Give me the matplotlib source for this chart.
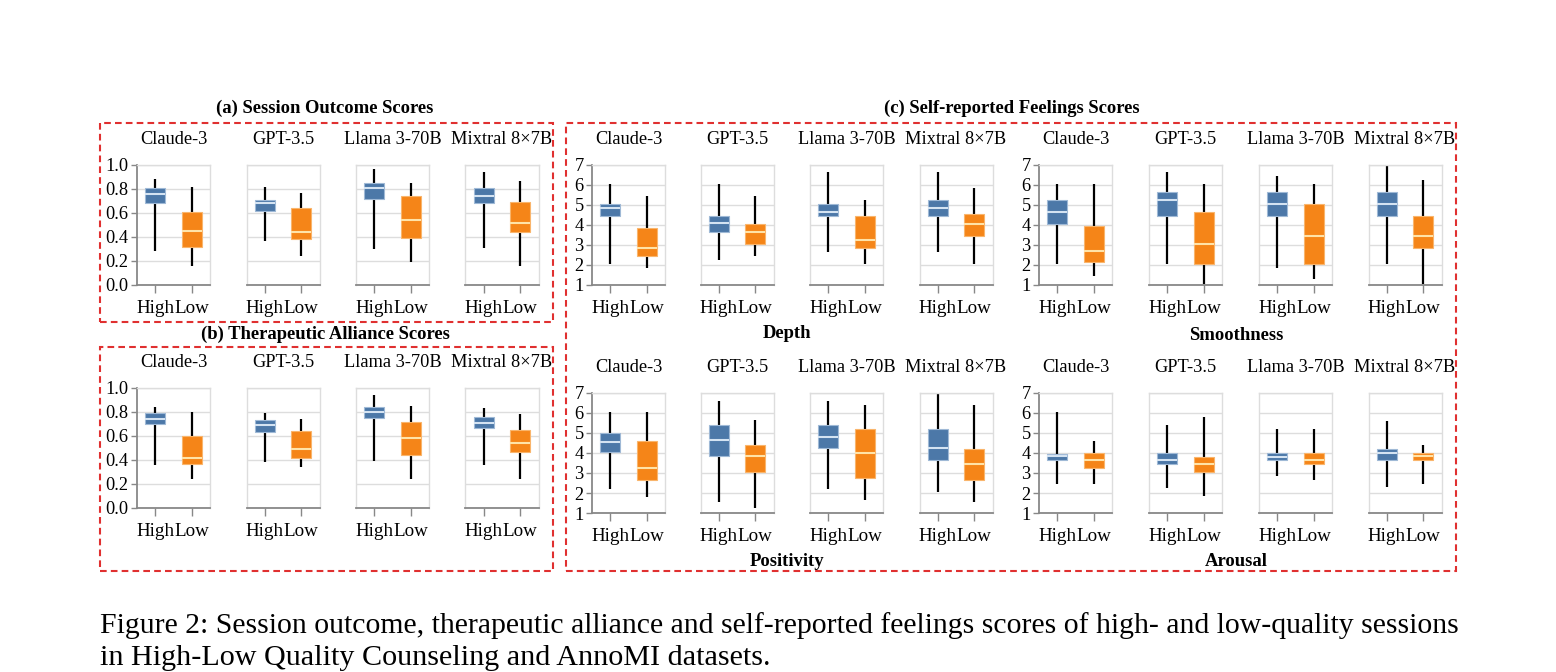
import matplotlib
matplotlib.use('Agg')
import matplotlib.pyplot as plt
from matplotlib.patches import Rectangle

W, H = 1556, 672
plt.rcParams['font.family'] = ['Liberation Serif', 'DejaVu Serif']

models = ["Claude-3", "GPT-3.5", "Llama 3-70B", "Mixtral 8×7B"]
groups = ["High", "Low"]

# each entry: [min, q1, median, q3, max] per model
session_outcome_high = [[0.28, 0.68, 0.76, 0.81, 0.88], [0.37, 0.62, 0.68, 0.71, 0.82],
                        [0.30, 0.72, 0.81, 0.85, 0.97], [0.31, 0.68, 0.74, 0.81, 0.94]]
session_outcome_low = [[0.16, 0.32, 0.45, 0.61, 0.82], [0.24, 0.38, 0.44, 0.64, 0.77],
                       [0.19, 0.39, 0.54, 0.74, 0.85], [0.16, 0.44, 0.52, 0.69, 0.87]]

alliance_high = [[0.36, 0.70, 0.74, 0.79, 0.84], [0.38, 0.63, 0.69, 0.73, 0.79],
                 [0.39, 0.75, 0.80, 0.84, 0.94], [0.36, 0.67, 0.71, 0.76, 0.83]]
alliance_low = [[0.24, 0.37, 0.42, 0.60, 0.80], [0.34, 0.42, 0.49, 0.64, 0.74],
                [0.24, 0.44, 0.58, 0.72, 0.85], [0.24, 0.47, 0.54, 0.65, 0.78]]

depth_high = [[2.05, 4.47, 4.83, 5.03, 6.03], [2.27, 3.67, 4.10, 4.43, 6.03],
              [2.67, 4.47, 4.67, 5.03, 6.65], [2.67, 4.47, 4.83, 5.23, 6.65]]
depth_low = [[1.87, 2.47, 2.87, 3.83, 5.47], [2.47, 3.07, 3.67, 4.05, 5.47],
             [2.07, 2.87, 3.27, 4.45, 5.25], [2.07, 3.47, 4.07, 4.55, 5.83]]

smooth_high = [[2.05, 4.07, 4.67, 5.23, 6.03], [2.05, 4.47, 5.25, 5.63, 6.63],
               [1.87, 4.47, 5.05, 5.63, 6.43], [2.05, 4.47, 5.05, 5.63, 7.00]]
smooth_low = [[1.47, 2.17, 2.68, 3.93, 6.03], [1.07, 2.05, 3.07, 4.63, 6.03],
              [1.28, 2.05, 3.45, 5.03, 6.03], [1.07, 2.87, 3.45, 4.43, 6.23]]

positivity_high = [[2.22, 4.03, 4.53, 5.00, 6.03], [1.53, 3.83, 4.63, 5.40, 6.62],
                   [2.22, 4.23, 4.82, 5.40, 6.62], [2.03, 3.63, 4.23, 5.20, 7.00]]
positivity_low = [[1.78, 2.63, 3.25, 4.62, 6.03], [1.25, 3.03, 3.83, 4.40, 5.63],
                  [1.63, 2.75, 4.02, 5.20, 6.42], [1.53, 2.63, 3.43, 4.20, 6.42]]

arousal_high = [[2.45, 3.63, 3.83, 3.95, 6.03], [2.23, 3.43, 3.63, 4.00, 5.40],
                [2.83, 3.63, 3.80, 4.00, 5.20], [2.30, 3.63, 4.00, 4.20, 5.60]]
arousal_low = [[2.45, 3.25, 3.63, 4.00, 4.62], [1.83, 3.03, 3.43, 3.80, 5.80],
               [2.63, 3.43, 3.63, 4.00, 5.20], [2.45, 3.63, 3.83, 4.00, 4.40]]

unit_ticks = [0.0, 0.2, 0.4, 0.6, 0.8, 1.0]
likert_ticks = [1, 2, 3, 4, 5, 6, 7]

BLUE, ORANGE = '#4c78a8', '#f58518'
BLUE_EDGE, ORANGE_EDGE = '#9fb9d6', '#f9b56c'
BLUE_MED, ORANGE_MED = '#d4e3f2', '#ffe3a8'
RED = '#e03030'
LBL = 13.2
XLBL = 13.7

fig = plt.figure(figsize=(W / 100, H / 100), dpi=100)


def px_axes(left, top, width, height):
    return fig.add_axes([left / W, 1 - (top + height) / H, width / W, height / H])


def ftext(x, y, s, **kw):
    fig.text(x / W, 1 - y / H, s, **kw)


def draw_panel(ax, hi, lo, ylim, yticks, fmt, first, title):
    stats = []
    for g, v in zip(groups, (hi, lo)):
        stats.append(dict(whislo=v[0], q1=v[1], med=v[2], q3=v[3], whishi=v[4], label=g))
    bp = ax.bxp(stats, positions=[0, 1], widths=0.55, patch_artist=True,
                showfliers=False, showcaps=False,
                whiskerprops=dict(color='black', lw=1.6, solid_capstyle='butt'))
    for patch, fc, ec in zip(bp['boxes'], (BLUE, ORANGE), (BLUE_EDGE, ORANGE_EDGE)):
        patch.set_facecolor(fc)
        patch.set_edgecolor(ec)
        patch.set_linewidth(0.8)
        patch.set_zorder(3)
    for med, mc in zip(bp['medians'], (BLUE_MED, ORANGE_MED)):
        med.set_color(mc)
        med.set_linewidth(1.5)
        med.set_zorder(4)
    ax.set_xlim(-0.5, 1.5)
    ax.set_ylim(*ylim)
    ax.set_yticks(yticks)
    ax.set_yticklabels([fmt.format(t) for t in yticks])
    ax.yaxis.grid(True, color='#dddddd', lw=1.0)
    ax.set_axisbelow(True)
    for s in ('top', 'right'):
        ax.spines[s].set_color('#dddddd')
        ax.spines[s].set_linewidth(1.0)
    ax.spines['bottom'].set_color('#888888')
    ax.spines['bottom'].set_linewidth(1.3)
    ax.tick_params(axis='x', length=6, width=1, color='#888888', labelsize=XLBL, pad=4.5)
    if first:
        ax.spines['left'].set_color('#888888')
        ax.spines['left'].set_linewidth(1.3)
        ax.tick_params(axis='y', length=4, width=1, color='#888888', labelsize=LBL, pad=2)
    else:
        ax.spines['left'].set_color('#dddddd')
        ax.spines['left'].set_linewidth(1.0)
        ax.tick_params(axis='y', length=0, labelleft=False)
    ax.set_title(title, fontsize=LBL, pad=15)


AW, AH = 73, 120
groups_layout = [
    (session_outcome_high, session_outcome_low, [137, 246.5, 356, 465.5], 165, (0, 1), unit_ticks, '{:.1f}'),
    (alliance_high, alliance_low, [137, 246.5, 356, 465.5], 388, (0, 1), unit_ticks, '{:.1f}'),
    (depth_high, depth_low, [592, 700.5, 810, 919.5], 165, (1, 7), likert_ticks, '{:d}'),
    (smooth_high, smooth_low, [1039, 1149, 1259, 1368.5], 165, (1, 7), likert_ticks, '{:d}'),
    (positivity_high, positivity_low, [592, 700.5, 810, 919.5], 393, (1, 7), likert_ticks, '{:d}'),
    (arousal_high, arousal_low, [1039, 1149, 1259, 1368.5], 393, (1, 7), likert_ticks, '{:d}'),
]

for hi_all, lo_all, lefts, top, ylim, yt, fmt in groups_layout:
    for i, m in enumerate(models):
        ax = px_axes(lefts[i], top, AW, AH)
        draw_panel(ax, hi_all[i], lo_all[i], ylim, yt, fmt, i == 0, m)

# group titles
bold = dict(fontsize=13.4, fontweight='bold', ha='center', va='center')
ftext(325, 108, "(a) Session Outcome Scores", **bold)
ftext(325, 334, "(b) Therapeutic Alliance Scores", **bold)
ftext(1012, 108, "(c) Self-reported Feelings Scores", **bold)
ftext(787, 333, "Depth", **bold)
ftext(1236, 335, "Smoothness", **bold)
ftext(787, 562, "Positivity", **bold)
ftext(1236, 562, "Arousal", **bold)

# dashed frames
for (x0, y0, x1, y1) in [(100, 123, 553, 322), (100, 347, 553, 571), (566, 123, 1456, 571)]:
    fig.add_artist(Rectangle((x0 / W, 1 - y1 / H), (x1 - x0) / W, (y1 - y0) / H,
                             transform=fig.transFigure, fill=False, edgecolor=RED,
                             lw=1.5, linestyle=(0, (3.2, 2))))

# caption
ftext(100, 633, "Figure 2: Session outcome, therapeutic alliance and self-reported feelings scores of high- and low-quality sessions",
      fontsize=21.45, va='baseline', ha='left')
ftext(100, 665, "in High-Low Quality Counseling and AnnoMI datasets.",
      fontsize=21.7, va='baseline', ha='left')

fig.savefig('out.png', dpi=100, facecolor='white')
